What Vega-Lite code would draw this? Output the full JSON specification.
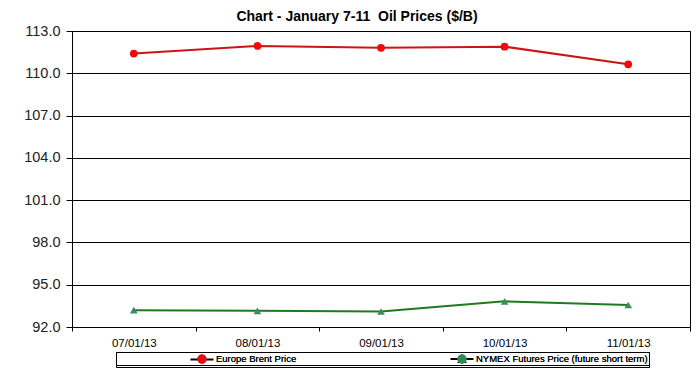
{
  "$schema": "https://vega.github.io/schema/vega-lite/v6.json",
  "width": 618,
  "height": 296,
  "autosize": {"type": "none"},
  "padding": {"left": 72, "top": 31, "right": 7, "bottom": 42},
  "background": "white",
  "config": {
    "font": "Liberation Sans",
    "view": {"stroke": "black", "strokeWidth": 1}
  },
  "title": {
    "text": "Chart - January 7-11 \u00a0Oil Prices ($/B)",
    "font": "Liberation Sans",
    "fontSize": 14,
    "fontWeight": "bold",
    "color": "black",
    "anchor": "middle",
    "offset": -1,
    "dx": -24
  },
  "data": {
    "values": [
      {"date": "07/01/13", "series": "Europe Brent Price", "price": 111.4},
      {"date": "08/01/13", "series": "Europe Brent Price", "price": 111.94},
      {"date": "09/01/13", "series": "Europe Brent Price", "price": 111.81},
      {"date": "10/01/13", "series": "Europe Brent Price", "price": 111.89},
      {"date": "11/01/13", "series": "Europe Brent Price", "price": 110.64},
      {"date": "07/01/13", "series": "NYMEX Futures Price (future short term)", "price": 93.19},
      {"date": "08/01/13", "series": "NYMEX Futures Price (future short term)", "price": 93.15},
      {"date": "09/01/13", "series": "NYMEX Futures Price (future short term)", "price": 93.1},
      {"date": "10/01/13", "series": "NYMEX Futures Price (future short term)", "price": 93.82},
      {"date": "11/01/13", "series": "NYMEX Futures Price (future short term)", "price": 93.56}
    ]
  },
  "encoding": {
    "x": {
      "field": "date",
      "type": "ordinal",
      "sort": null,
      "title": null,
      "scale": {"paddingInner": 0, "paddingOuter": 0},
      "axis": {
        "tickBand": "extent",
        "labelAngle": 0,
        "labelFontSize": 11.5,
        "labelColor": "black",
        "labelPadding": 6,
        "tickColor": "black",
        "tickSize": 4,
        "domainColor": "black",
        "grid": false
      }
    },
    "y": {
      "field": "price",
      "type": "quantitative",
      "title": null,
      "scale": {"domain": [92, 113], "nice": false, "zero": false},
      "axis": {
        "values": [92, 95, 98, 101, 104, 107, 110, 113],
        "format": ".1f",
        "labelFontSize": 14.5,
        "labelColor": "#222222",
        "labelPadding": 6,
        "tickColor": "black",
        "tickSize": 6,
        "domainColor": "black",
        "grid": true,
        "gridColor": "black",
        "gridOpacity": 1
      }
    }
  },
  "layer": [
    {
      "mark": {"type": "line", "strokeWidth": 2},
      "encoding": {
        "color": {
          "field": "series",
          "type": "nominal",
          "scale": {
            "domain": ["Europe Brent Price", "NYMEX Futures Price (future short term)"],
            "range": ["#cc1414", "#1f7a1f"]
          },
          "legend": null
        }
      }
    },
    {
      "transform": [{"filter": "datum.series == 'Europe Brent Price'"}],
      "mark": {"type": "point", "shape": "circle", "filled": true, "opacity": 1, "size": 60, "color": "#f00a0a"}
    },
    {
      "transform": [{"filter": "datum.series != 'Europe Brent Price'"}],
      "mark": {"type": "point", "shape": "triangle-up", "filled": true, "opacity": 1, "size": 60, "color": "#3a8c60"}
    },
    {
      "transform": [{"filter": "false"}],
      "mark": {"type": "point", "filled": true, "opacity": 1},
      "encoding": {
        "color": {
          "field": "series",
          "type": "nominal",
          "scale": {
            "domain": ["Europe Brent Price", "NYMEX Futures Price (future short term)"],
            "range": ["#e01010", "#2f8a55"]
          },
          "legend": {
            "orient": "none",
            "legendX": 44,
            "legendY": 321,
            "direction": "horizontal",
            "title": null,
            "strokeColor": "black",
            "padding": 1,
            "symbolSize": 92,
            "symbolOffset": 79,
            "labelOffset": 8,
            "columnPadding": 80,
            "labelFontSize": 9.5,
            "labelLimit": 400,
            "labelColor": "black",
            "symbolOpacity": 1,
            "labelExpr": "datum.index == 1 ? datum.label + '\u00a0\u00a0\u00a0\u00a0\u00a0\u00a0\u00a0\u00a0\u00a0\u00a0\u00a0\u00a0\u00a0\u00a0\u00a0\u00a0' : datum.label"
          }
        },
        "shape": {
          "field": "series",
          "type": "nominal",
          "scale": {
            "domain": ["Europe Brent Price", "NYMEX Futures Price (future short term)"],
            "range": [
              "M-2.4,-0.2H-0.5V0.2H-2.4Z M0.5,-0.2H2.4V0.2H0.5Z M-0.65,0A0.65,0.65 0 1,0 0.65,0A0.65,0.65 0 1,0 -0.65,0Z",
              "M-2.4,-0.2H-0.8V0.2H-2.4Z M0.8,-0.2H2.4V0.2H0.8Z M0,-1.1L1.0,0.8H-1.0Z"
            ]
          },
          "legend": {
            "orient": "none",
            "legendX": 44,
            "legendY": 321,
            "direction": "horizontal",
            "title": null,
            "strokeColor": "black",
            "padding": 1,
            "symbolSize": 92,
            "symbolOffset": 79,
            "labelOffset": 8,
            "columnPadding": 80,
            "labelFontSize": 9.5,
            "labelLimit": 400,
            "labelColor": "black",
            "symbolOpacity": 1,
            "labelExpr": "datum.index == 1 ? datum.label + '\u00a0\u00a0\u00a0\u00a0\u00a0\u00a0\u00a0\u00a0\u00a0\u00a0\u00a0\u00a0\u00a0\u00a0\u00a0\u00a0' : datum.label"
          }
        }
      }
    }
  ],
  "resolve": {"scale": {"color": "independent"}}
}
